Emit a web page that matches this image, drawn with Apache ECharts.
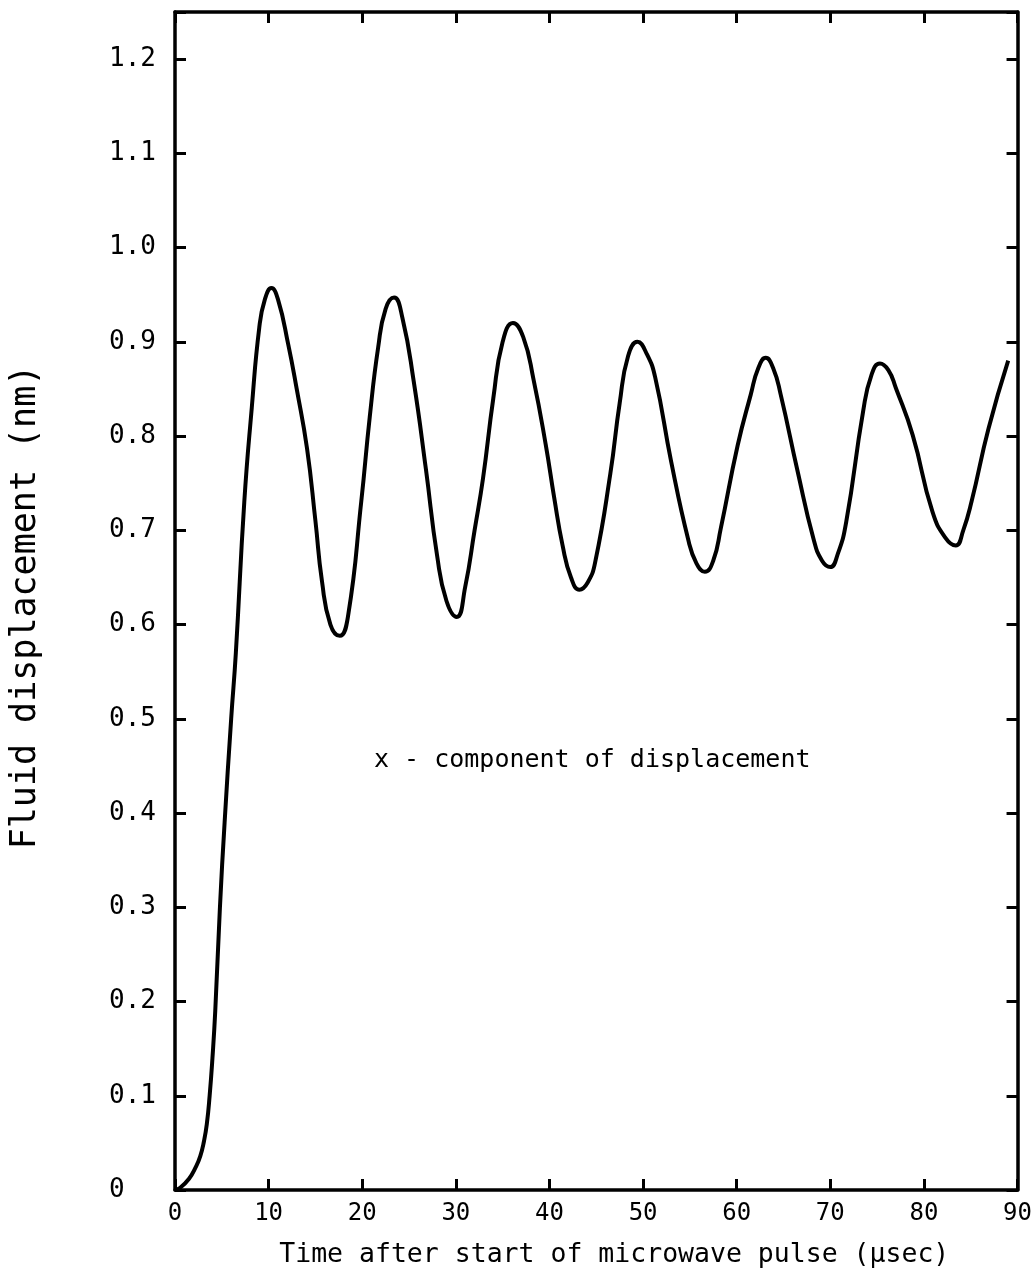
<!DOCTYPE html>
<html>
<head>
<meta charset="utf-8">
<script src="https://cdn.jsdelivr.net/npm/echarts@6/dist/echarts.min.js"></script>
<style>
  html, body { margin: 0; padding: 0; background: #fff; }
  #chart { width: 1035px; height: 1279px; }
</style>
</head>
<body>
<div id="chart"></div>
<script>
// time (usec) and x-displacement (nm)
const timeUs = [
  0, 0.5, 1.5, 2.2, 2.7, 3.1, 3.4, 3.7, 4.0, 4.3, 4.8, 5.3, 6.0, 6.5, 7.4, 8.2,
  9.0, 9.6, 10.3, 11.0, 12.1, 13.0, 14.1, 15.0, 15.7, 16.6, 17.6, 18.5, 19.9,
  20.8, 21.7, 22.5, 23.4, 24.3, 25.5, 26.8, 28.0, 29.0, 30.1, 31.0, 32.0, 32.9,
  34.0, 35.0, 36.1, 37.2, 38.3, 39.6, 40.5, 41.4, 42.3, 43.2, 44.1, 44.9,
  46.5, 47.5, 48.4, 49.4, 50.4, 51.3, 53.0, 54.8, 55.7, 56.6, 57.5, 58.3, 60.1,
  61.5, 62.3, 63.1, 63.9, 64.7, 66.5, 68.2, 69.1, 70.0, 70.8, 71.7, 73.5, 74.4,
  75.3, 76.2, 77.0, 78.8, 80.9, 82.3, 83.4, 84.2, 85.1, 86.9, 89.0
];
const dispNm = [
  0, 0.002, 0.012, 0.024, 0.036, 0.052, 0.07, 0.10, 0.14, 0.19, 0.30, 0.39,
  0.50, 0.57, 0.73, 0.83, 0.915, 0.945, 0.957, 0.945, 0.897, 0.85, 0.787, 0.71,
  0.646, 0.60, 0.588, 0.61, 0.731, 0.82, 0.894, 0.935, 0.947, 0.925, 0.858,
  0.765, 0.673, 0.625, 0.608, 0.64, 0.70, 0.755, 0.84, 0.900, 0.92, 0.905,
  0.86, 0.791, 0.735, 0.684, 0.65, 0.637, 0.645, 0.667, 0.76, 0.835, 0.885,
  0.900, 0.887, 0.862, 0.773, 0.691, 0.665, 0.656, 0.668, 0.702, 0.79, 0.844,
  0.872, 0.883, 0.872, 0.844, 0.763, 0.691, 0.668, 0.661, 0.675, 0.709, 0.826,
  0.865, 0.877, 0.870, 0.851, 0.801, 0.720, 0.692, 0.684, 0.700, 0.731, 0.808,
  0.880
];
const yTickLabels = {
  "0": "0", "0.1": "0.1", "0.2": "0.2", "0.3": "0.3", "0.4": "0.4", "0.5": "0.5",
  "0.6": "0.6", "0.7": "0.7", "0.8": "0.8", "0.9": "0.9", "1": "1.0", "1.1": "1.1", "1.2": "1.2"
};

const mono = "DejaVu Sans Mono";
const chart = echarts.init(document.getElementById("chart"));

const axisLine = { show: true, onZero: false, lineStyle: { color: "#000", width: 3.5 } };
const axisTick = { show: true, inside: true, length: 11, lineStyle: { color: "#000", width: 3 } };

chart.setOption({
  backgroundColor: "#fff",
  animation: false,
  grid: { left: 172, right: 17, top: 12, bottom: 89 },
  xAxis: [
    {
      type: "value", min: 0, max: 90, interval: 10,
      axisLine, axisTick, splitLine: { show: false },
      axisLabel: { color: "#000", fontFamily: mono, fontSize: 24, margin: 12 },
      name: "Time after start of microwave pulse (\u03bcsec)",
      nameLocation: "middle", nameGap: 52,
      nameTextStyle: { color: "#000", fontFamily: mono, fontSize: 26.5, padding: [0, 0, 0, 36] }
    },
    {
      type: "value", position: "top", min: 0, max: 90, interval: 10,
      axisLine, axisTick, axisLabel: { show: false }, splitLine: { show: false }
    }
  ],
  yAxis: [
    {
      type: "value", min: 0, max: 1.25, interval: 0.1,
      axisLine, axisTick, splitLine: { show: false },
      axisLabel: {
        color: "#000", fontFamily: mono, fontSize: 26, align: "left", margin: 66,
        formatter: v => yTickLabels[String(+v.toFixed(1))] || ""
      },
      name: "Fluid displacement (nm)",
      nameLocation: "middle", nameGap: 132, nameRotate: 90,
      nameTextStyle: { color: "#000", fontFamily: mono, fontSize: 35, padding: [0, 12, 0, 0] }
    },
    {
      type: "value", position: "right", min: 0, max: 1.25, interval: 0.1,
      axisLine, axisTick, axisLabel: { show: false }, splitLine: { show: false }
    }
  ],
  graphic: [
    {
      type: "text", left: 374, top: 748,
      style: { text: "x - component of displacement", fill: "#000", font: "25px " + mono }
    }
  ],
  series: [
    {
      type: "line",
      data: timeUs.map((t, i) => [t, dispNm[i]]),
      smooth: 0.5,
      showSymbol: false,
      lineStyle: { color: "#000", width: 4 }
    }
  ]
});
</script>
</body>
</html>
